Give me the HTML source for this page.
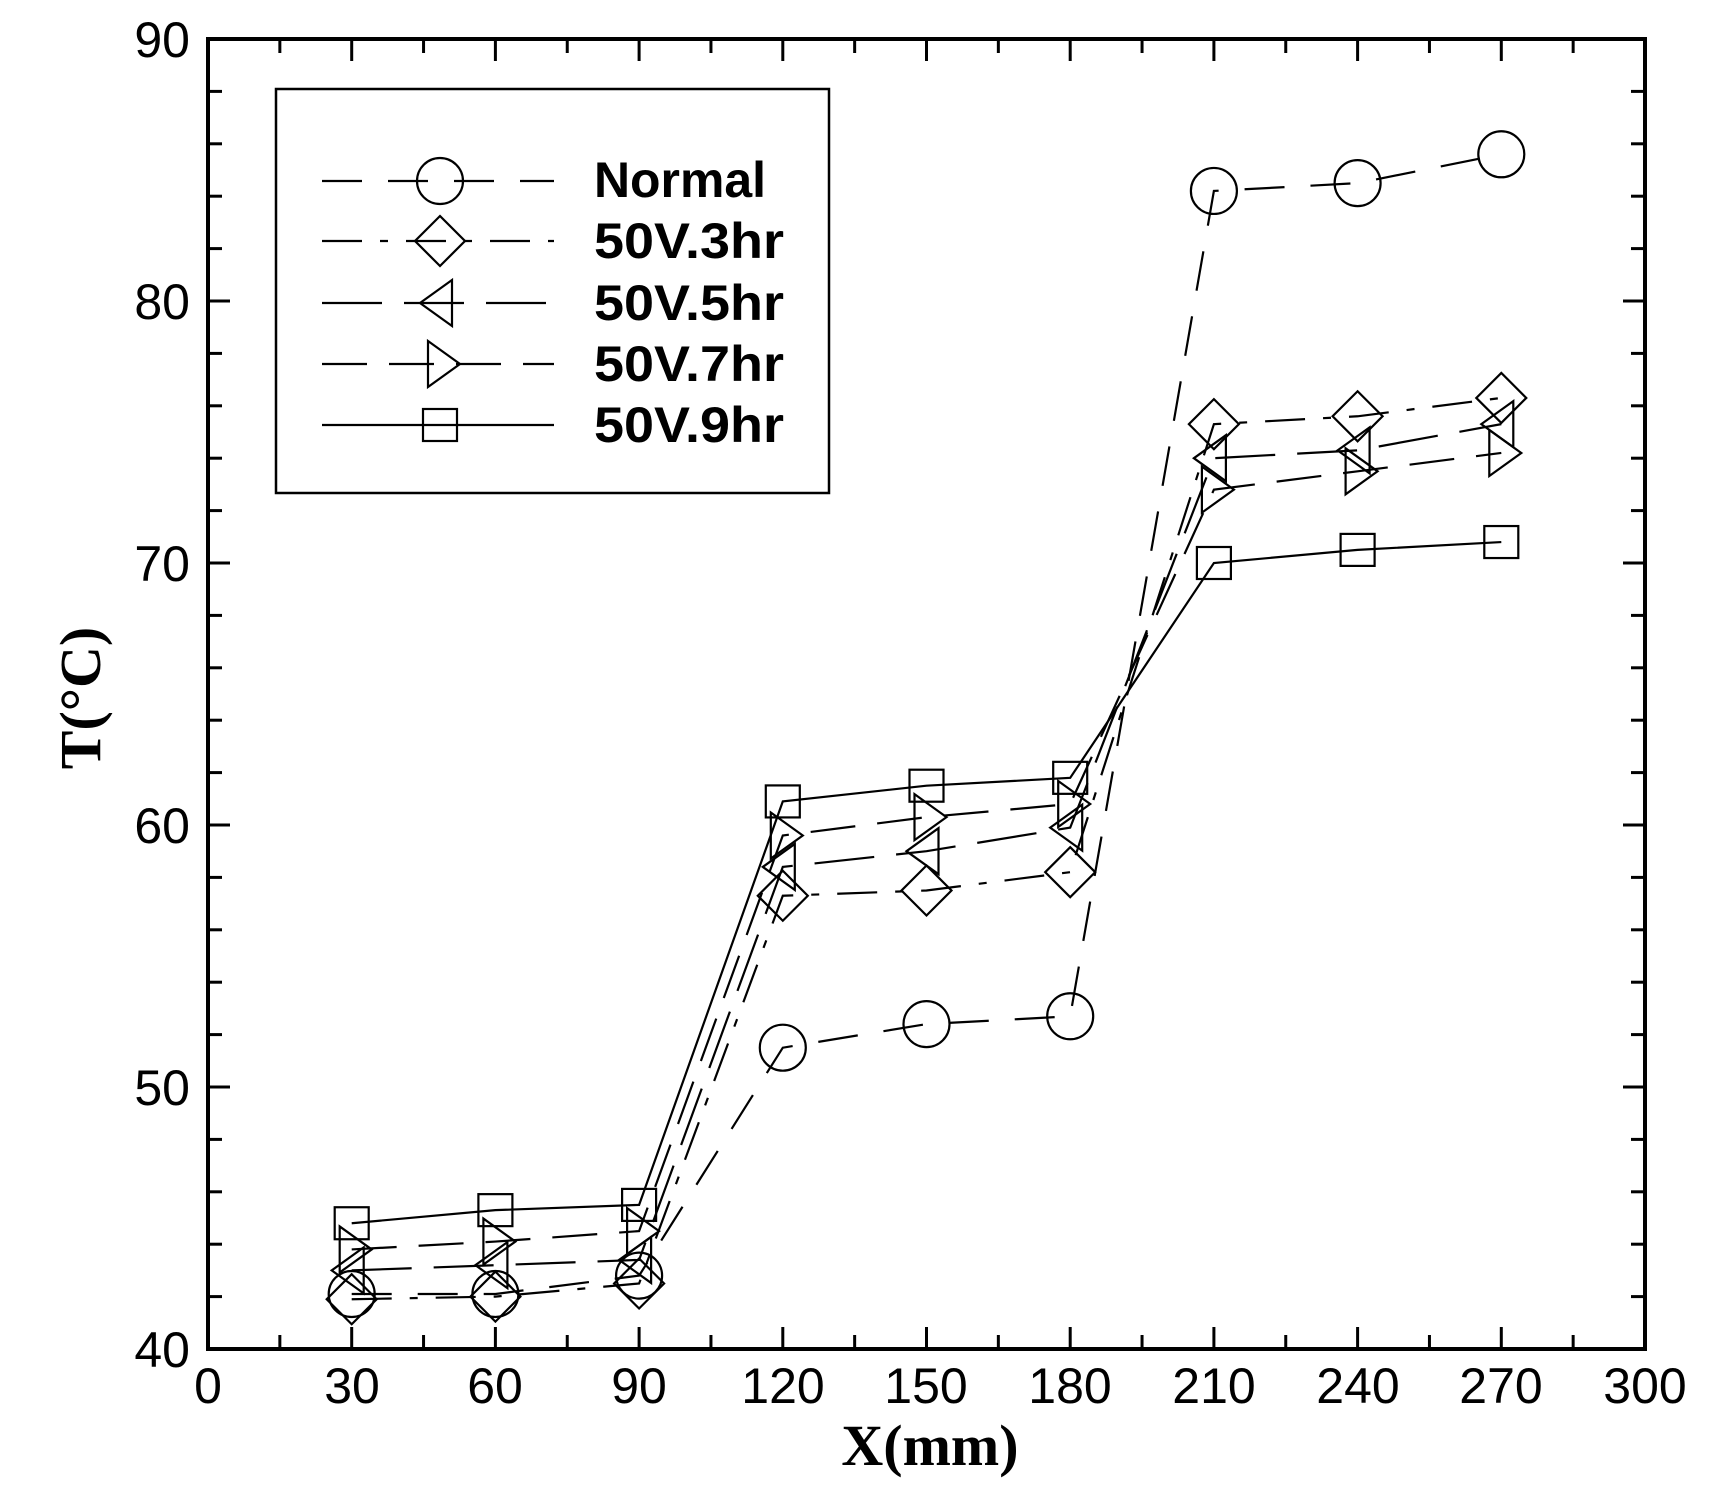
<!DOCTYPE html>
<html><head><meta charset="utf-8"><style>html,body{margin:0;padding:0;background:#fff}svg{display:block}</style></head>
<body>
<svg id="s" width="1726" height="1491" viewBox="0 0 1726 1491" xmlns="http://www.w3.org/2000/svg" font-family="Liberation Sans, Arial, sans-serif">
<rect width="1726" height="1491" fill="#fff"/>
<g id="ticks" stroke="#000" stroke-width="3"></g>
<rect x="208" y="39" width="1437" height="1310" fill="none" stroke="#000" stroke-width="4"/>
<g font-size="50" text-anchor="middle" fill="#000">
<text x="208" y="1403">0</text><text x="352" y="1403">30</text><text x="495" y="1403">60</text><text x="639" y="1403">90</text>
<text x="783" y="1403">120</text><text x="926" y="1403">150</text><text x="1070" y="1403">180</text><text x="1214" y="1403">210</text>
<text x="1358" y="1403">240</text><text x="1501" y="1403">270</text><text x="1645" y="1403">300</text>
</g>
<g font-size="50" text-anchor="end" fill="#000">
<text x="190" y="1367">40</text><text x="190" y="1105">50</text><text x="190" y="843">60</text>
<text x="190" y="581">70</text><text x="190" y="319">80</text><text x="190" y="57">90</text>
</g>
<text x="930" y="1465" font-family="Liberation Serif, serif" font-weight="bold" font-size="58" text-anchor="middle">X(mm)</text>
<text transform="translate(100,698) rotate(-90)" font-family="Liberation Serif, serif" font-weight="bold" font-size="58" text-anchor="middle">T(°C)</text>
<rect x="276" y="89" width="553" height="404" fill="#fff" stroke="#000" stroke-width="2.5"/>
<g font-size="50" font-weight="bold" fill="#000">
<text x="594" y="197" textLength="172" lengthAdjust="spacingAndGlyphs">Normal</text>
<text x="594" y="258" textLength="190" lengthAdjust="spacingAndGlyphs">50V.3hr</text>
<text x="594" y="320" textLength="190" lengthAdjust="spacingAndGlyphs">50V.5hr</text>
<text x="594" y="381" textLength="190" lengthAdjust="spacingAndGlyphs">50V.7hr</text>
<text x="594" y="442" textLength="190" lengthAdjust="spacingAndGlyphs">50V.9hr</text>
</g>
<g id="plot" fill="none" stroke="#000" stroke-width="2.2"></g>
</svg>
<script>
var NS="http://www.w3.org/2000/svg";
function X(x){return 208+x*4.79;} function Y(t){return 1349-(t-40)*26.2;}
function el(p,tag,a){var e=document.createElementNS(NS,tag);for(var k in a)e.setAttribute(k,a[k]);p.appendChild(e);return e;}
var tk=document.getElementById('ticks');
for(var x=0;x<=300;x+=15){var L=(x%30==0)?22:14;var px=X(x);
 el(tk,'line',{x1:px,y1:1349,x2:px,y2:1349-L});el(tk,'line',{x1:px,y1:39,x2:px,y2:39+L});}
for(var t=40;t<=90;t+=2){var L=(t%10==0)?22:14;var py=Y(t);
 el(tk,'line',{x1:208,y1:py,x2:208+L,y2:py});el(tk,'line',{x1:1645,y1:py,x2:1645-L,y2:py});}
var xs=[30,60,90,120,150,180,210,240,270];
var S=[
 {d:[42.1,42.1,42.8,51.5,52.4,52.7,84.2,84.5,85.6],m:'c',da:'40 26'},
 {d:[41.9,42.0,42.5,57.3,57.5,58.2,75.3,75.6,76.3],m:'d',da:'40 18 8 18'},
 {d:[43.0,43.2,43.4,58.4,59.0,59.9,74.0,74.3,75.3],m:'l',da:'60 22'},
 {d:[43.8,44.1,44.5,59.6,60.3,60.8,72.8,73.5,74.2],m:'r',da:'45 22'},
 {d:[44.8,45.3,45.5,60.9,61.5,61.8,70.0,70.5,70.8],m:'s',da:''}
];
var g=document.getElementById('plot');
function marker(m,cx,cy){
 if(m=='c')el(g,'circle',{cx:cx,cy:cy,r:23});
 if(m=='d')el(g,'polygon',{points:[cx,cy-25,cx+25,cy,cx,cy+25,cx-25,cy].join(' ')});
 if(m=='l')el(g,'polygon',{points:[cx-20,cy,cx+12,cy-23,cx+12,cy+23].join(' ')});
 if(m=='r')el(g,'polygon',{points:[cx+20,cy,cx-12,cy-23,cx-12,cy+23].join(' ')});
 if(m=='s')el(g,'rect',{x:cx-17,y:cy-16,width:34,height:32});
}
S.forEach(function(s,i){
 var pts=xs.map(function(x,j){return X(x)+','+Y(s.d[j]);}).join(' ');
 var a={points:pts};if(s.da)a['stroke-dasharray']=s.da;el(g,'polyline',a);
 xs.forEach(function(x,j){marker(s.m,X(x),Y(s.d[j]));});
 var ly=[181,241,303,364,425][i];
 var la={x1:322,y1:ly,x2:554,y2:ly};if(s.da)la['stroke-dasharray']=s.da;el(g,'line',la);
 marker(s.m,440,ly);
});
</script>
</body></html>
